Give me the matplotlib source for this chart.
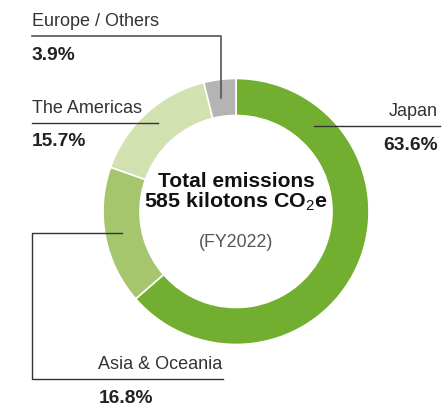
import matplotlib
matplotlib.use("Agg")
import matplotlib.pyplot as plt

plt.rcParams['font.family'] = ['Liberation Sans', 'DejaVu Sans']
plt.rcParams['mathtext.fontset'] = 'custom'
plt.rcParams['mathtext.rm'] = 'Liberation Sans'
plt.rcParams['mathtext.it'] = 'Liberation Sans'

# Data (share of total emissions, %)
regions = ['Japan', 'Asia & Oceania', 'The Americas', 'Europe / Others']
shares = [63.6, 16.8, 15.7, 3.9]
colors = ['#72ae2f', '#a6c66e', '#d1e1af', '#b4b4b4']
total_kt = 585
fiscal_year = 'FY2022'

W, H = 443, 407
fig = plt.figure(figsize=(W / 100, H / 100), dpi=100)
ax = fig.add_axes((0, 0, 1, 1))

# donut (pixel coordinates, y axis pointing down)
cx, cy, r_out, r_in = 236, 211.5, 133, 96
ax.pie(shares, colors=colors, startangle=-90, counterclock=True,
       radius=r_out, center=(cx, cy),
       wedgeprops=dict(width=r_out - r_in, edgecolor='white', linewidth=1.2))
ax.set_xlim(0, W)
ax.set_ylim(H, 0)
ax.set_aspect('equal')
ax.axis('off')

# centre text
ax.text(cx, 187, 'Total emissions', ha='center', va='baseline',
        fontsize=15, fontweight='bold', color='#111111')
ax.text(cx, 207.5, f'{total_kt} kilotons CO$_2$e', ha='center', va='baseline',
        fontsize=15.4, fontweight='bold', color='#111111')
ax.text(cx, 247, f'({fiscal_year})', ha='center', va='baseline',
        fontsize=12.8, color='#555555')

lab = dict(fontsize=13, color='#333333', va='baseline')
pct = dict(fontsize=13.8, fontweight='bold', color='#222222', va='baseline')
line = dict(color='#333333', lw=1)

# Europe / Others
ax.text(32, 26, regions[3], ha='left', **lab)
ax.text(32, 60.5, f'{shares[3]}%', ha='left', **pct)
ax.plot([32, 221.5, 221.5], [36, 36, 98], color='#555555', lw=1.2)

# The Americas
ax.text(32, 113, regions[2], ha='left', **lab)
ax.text(32, 146, f'{shares[2]}%', ha='left', **pct)
ax.plot([32, 158], [123, 123], **line)

# Japan
ax.text(438, 116, regions[0], ha='right', **lab)
ax.text(438, 150.5, f'{shares[0]}%', ha='right', **pct)
ax.plot([314, 440], [125.5, 125.5], **line)

# Asia & Oceania
ax.text(98, 369, regions[1], ha='left', **lab)
ax.text(99, 403, f'{shares[1]}%', ha='left', **pct)
ax.plot([122, 32, 32, 223], [233, 233, 379, 379], **line)

fig.savefig('out.png', dpi=100)
